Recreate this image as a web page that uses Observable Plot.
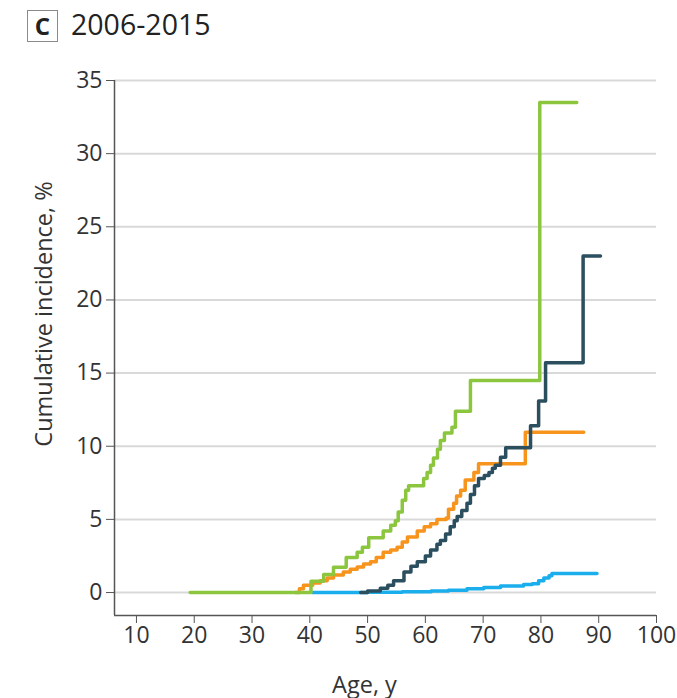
<!DOCTYPE html>
<html><head><meta charset="utf-8">
<script src="https://cdn.jsdelivr.net/npm/d3@7"></script>
<script src="https://cdn.jsdelivr.net/npm/@observablehq/plot@0.6"></script>
<style>
body{margin:0;background:#fff;font-family:"Open Sans",sans-serif;}
#title{position:relative;height:50px;}
#box{position:absolute;left:27px;top:10px;width:29px;height:30px;border:1.5px solid #8a8a8a;font-weight:bold;font-size:24px;line-height:30px;text-align:center;color:#222;}
#ttext{position:absolute;left:71px;top:5px;font-size:28.5px;color:#222;}
</style></head><body>
<div id="title"><div id="box">C</div><div id="ttext">2006-2015</div></div>
<div id="chart"></div>
<script>
// Data: [age, cumulative incidence %] step points
const green = [[19.3,0],[40.2,0.77],[42.4,1.23],[44.1,1.73],[46.3,2.4],[48.2,2.75],[49.1,3.1],[50.2,3.75],[52.7,4.2],[54.0,4.6],[54.8,4.9],[55.3,5.5],[56.0,6.3],[56.6,7.0],[57.1,7.3],[59.7,7.8],[60.3,8.2],[60.9,8.7],[61.4,9.2],[62.1,9.8],[62.6,10.4],[63.3,10.9],[64.6,11.3],[65.2,12.4],[67.8,14.5],[79.8,33.5],[86.2,33.5]];
const orange = [[37.5,0],[38.2,0.25],[38.9,0.5],[40.5,0.65],[41.8,0.8],[43,1.0],[44.1,1.2],[45.8,1.4],[47,1.6],[48.2,1.75],[49.3,1.95],[50.5,2.1],[51.5,2.4],[52.7,2.75],[54,2.9],[55.1,3.1],[56,3.45],[56.9,3.8],[58.6,4.2],[59.8,4.5],[60.9,4.7],[62,5.0],[63.6,5.1],[64,5.7],[64.9,6.1],[65.4,6.6],[66.1,7.0],[66.9,7.7],[68.4,8.2],[69.2,8.8],[77.3,10.96],[87.4,10.96]];
const teal = [[48.8,0],[50,0.1],[52.2,0.3],[53.5,0.5],[54.5,0.8],[56.3,1.4],[57.5,1.8],[58.6,2.1],[60,2.5],[60.9,2.9],[62,3.3],[62.6,3.55],[63.5,4.0],[64.3,4.5],[65,4.9],[65.5,5.2],[66.3,5.6],[67.2,6.1],[67.8,6.7],[68.5,7.3],[69.2,7.8],[70.2,8.0],[71,8.2],[71.6,8.5],[72.1,8.7],[73,9.25],[73.9,9.9],[78.2,11.4],[79.6,13.1],[80.8,15.7],[87.3,23.0],[90.3,23.0]];
const blue = [[40.4,0],[50,0.02],[56,0.05],[61,0.1],[64,0.15],[67.2,0.25],[70.1,0.35],[73,0.45],[77,0.55],[78.5,0.6],[79.6,0.8],[80.5,1.0],[81.4,1.15],[81.9,1.3],[89.7,1.3]];

const xTicks = [10,20,30,40,50,60,70,80,90,100];
const yTicks = [0,5,10,15,20,25,30,35];
const xDomain = [6.2,100];
const yDomain = [-1.57,35];
const xLabel = "Age, y";
const yLabel = "Cumulative incidence, %";

const toRows = a => a.map(([age,value]) => ({age,value}));
const series = [
  {data: blue, color: "#1aaeec"},
  {data: orange, color: "#f7941d"},
  {data: green, color: "#8cc63f"},
  {data: teal, color: "#2b4f5e"}
];

const chart = Plot.plot({
  width: 677, height: 648,
  marginTop: 30, marginBottom: 83, marginLeft: 114, marginRight: 21,
  x: {domain: xDomain},
  y: {domain: yDomain},
  style: {fontFamily: "Open Sans", fontSize: "23px", color: "#333", background: "#fff"},
  marks: [
    Plot.gridY(yTicks, {stroke: "#d9d9d9", strokeOpacity: 1, strokeWidth: 2}),
    Plot.axisY(yTicks, {tickSize: 8, tickPadding: 4, label: null, stroke: "#555", fill: "#333"}),
    Plot.axisX(xTicks, {tickSize: 8, tickPadding: 3, label: null, stroke: "#555", fill: "#333"}),
    Plot.ruleX([xDomain[0]], {stroke: "#555", strokeWidth: 1.5}),
    Plot.ruleY([yDomain[0]], {stroke: "#555", strokeWidth: 1.5}),
    ...series.map(s => Plot.line(toRows(s.data), {x: "age", y: "value", curve: "step-after", stroke: s.color, strokeWidth: 3.5})),
    Plot.text([yLabel], {frameAnchor: "left", textAnchor: "middle", dx: -70, dy: -34, rotate: -90, text: d => d, fill: "#333", fontSize: 23.5}),
    Plot.text([xLabel], {frameAnchor: "bottom", textAnchor: "middle", dx: -21, dy: 77, text: d => d, fill: "#333", fontSize: 23.5})
  ]
});
document.getElementById("chart").appendChild(chart);
</script>
</body></html>
